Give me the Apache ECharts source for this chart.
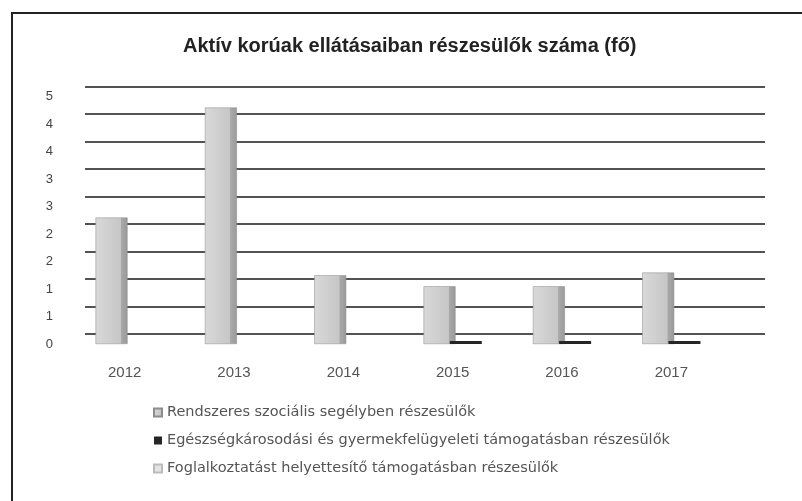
<!DOCTYPE html>
<html>
<head>
<meta charset="utf-8">
<title>Aktív korúak ellátásaiban részesülők száma</title>
<script src="https://cdn.jsdelivr.net/npm/echarts@6/dist/echarts.min.js"></script>
<style>
  html, body { margin: 0; padding: 0; background: #fff; }
  .frame {
    position: absolute;
    left: 11px;
    top: 12px;
    width: 800px;
    height: 500px;
    border-left: 2px solid #222;
    border-top: 2px solid #222;
  }
  #chart { position: absolute; left: 0; top: 0; width: 802px; height: 501px; }
</style>
</head>
<body>
<div class="frame"></div>
<div id="chart"></div>
<script>
// data
const years = ['2012', '2013', '2014', '2015', '2016', '2017']
const rendszeres = [2.3, 4.3, 1.25, 1.05, 1.05, 1.3]
const egeszseg = [null, null, null, 0, 0, 0]
const foglalkoztatas = [null, null, null, null, null, null]

const seriesNames = [
  'Rendszeres szociális segélyben részesülők',
  'Egészségkárosodási és gyermekfelügyeleti támogatásban részesülők',
  'Foglalkoztatást helyettesítő támogatásban részesülők',
]

const yMin = 0
const yMax = 4.5
const yStep = 0.5

const chart = echarts.init(document.getElementById('chart'))

const barFill = new echarts.graphic.LinearGradient(0, 0, 1, 0, [
  { offset: 0, color: '#d9d9d9' },
  { offset: 0.78, color: '#c6c6c6' },
  { offset: 0.8, color: '#a9a9a9' },
  { offset: 1, color: '#999999' },
])

chart.setOption({
  animation: false,
  textStyle: { fontFamily: 'Liberation Sans, Arial, sans-serif' },
  title: {
    text: 'Aktív korúak ellátásaiban részesülők száma (fő)',
    left: 178,
    top: 31,
    textStyle: { fontSize: 20, fontWeight: 'bold', color: '#222' },
  },
  legend: {
    orient: 'vertical',
    left: 148,
    top: 400,
    itemWidth: 8,
    itemHeight: 8,
    itemGap: 13,
    icon: 'rect',
    data: seriesNames,
    textStyle: { fontSize: 14.5, color: '#555', fontFamily: 'DejaVu Sans' },
  },
  grid: [
    // back wall with the gridlines
    { left: 85, right: 37, top: 86.5, bottom: 167 },
    // front plane where the columns stand
    { left: 70, right: 76, top: 96.5, bottom: 157 },
  ],
  xAxis: [
    { type: 'category', gridIndex: 0, data: years, show: false },
    {
      type: 'category',
      gridIndex: 1,
      data: years,
      axisLine: { show: false },
      axisTick: { show: false },
      axisLabel: { margin: 21, fontSize: 15, color: '#555' },
    },
  ],
  yAxis: [
    {
      type: 'value',
      gridIndex: 0,
      min: yMin,
      max: yMax,
      interval: yStep,
      axisLabel: { show: false },
      axisLine: { show: false },
      axisTick: { show: false },
      splitLine: { lineStyle: { color: '#1a1a1a', width: 1.5 } },
    },
    {
      type: 'value',
      gridIndex: 1,
      min: yMin,
      max: yMax,
      interval: yStep,
      axisLine: { show: false },
      axisTick: { show: false },
      splitLine: { show: false },
      axisLabel: {
        margin: 17,
        fontSize: 13,
        color: '#444',
        padding: [12, 0, 0, 0],
        formatter: (value) => String(Math.round(value)),
      },
    },
  ],
  series: [
    {
      name: seriesNames[0],
      type: 'bar',
      xAxisIndex: 1,
      yAxisIndex: 1,
      data: rendszeres,
      barWidth: 32,
      barGap: '-18%',
      itemStyle: { color: barFill, borderColor: '#8c8c8c', borderWidth: 0.5 },
    },
    {
      name: seriesNames[1],
      type: 'bar',
      xAxisIndex: 1,
      yAxisIndex: 1,
      data: egeszseg,
      barWidth: 32,
      barMinHeight: 3,
      itemStyle: { color: '#262626' },
    },
    {
      name: seriesNames[2],
      type: 'bar',
      xAxisIndex: 0,
      yAxisIndex: 0,
      data: foglalkoztatas,
      itemStyle: { color: '#e4e4e4', borderColor: '#bbb', borderWidth: 0.5 },
    },
  ],
})
</script>
</body>
</html>
